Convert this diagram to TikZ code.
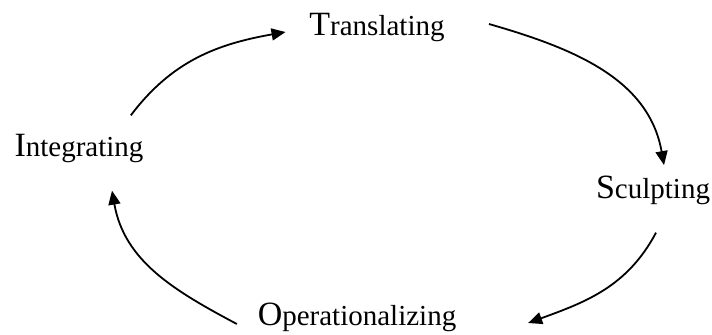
\documentclass[tikz,border=0pt]{standalone}
\usepackage{fontspec}
\setmainfont{Liberation Serif}
\usetikzlibrary{arrows.meta}
\newcommand{\bigfirst}[1]{{\fontsize{17}{17}\selectfont #1}}

\begin{document}
\begin{tikzpicture}[x=1pt,y=1pt]
    \tikzstyle{every node}=[font=\fontsize{14.5}{14.5}\selectfont,inner sep=0pt,anchor=base]
    \tikzstyle{cycle}=[line width=0.9pt,-{Triangle[length=7pt,width=6pt]}]
    \useasboundingbox (0,0) rectangle (356,167);
    %%% HELP LINES - uncomment to design/extend
    %\draw[step=10,gray,very thin] (0,0) grid (356,167);
    % the four stages
    \node at (188.5,149.5) (Trans) {\bigfirst{T}ranslating};
    \node at (326.5,68) (Scul) {\bigfirst{S}culpting};
    \node at (178.5,4.5) (Oper) {\bigfirst{O}perationalizing};
    \node at (39.5,89) (Integ) {\bigfirst{I}ntegrating};

    \path
    ([xshift=-6.5pt,yshift=9pt]Integ.north east) edge [cycle,out=53,in=190] ([xshift=-11.75pt,yshift=1.5pt]Trans.base west)
    ([xshift=22pt,yshift=5.5pt]Trans.base east) edge [cycle,out=-16,in=100] ([xshift=5.5pt,yshift=5pt]Scul.north)
    ([xshift=1.5pt,yshift=-14pt]Scul.south) edge [cycle,out=-118,in=20] ([xshift=35.75pt,yshift=1pt]Oper.base east)
    ([xshift=-10.25pt,yshift=0.5pt]Oper.base west) edge [cycle,out=152,in=-80] ([xshift=16.5pt,yshift=-14pt]Integ.south);
\end{tikzpicture}
\end{document}
